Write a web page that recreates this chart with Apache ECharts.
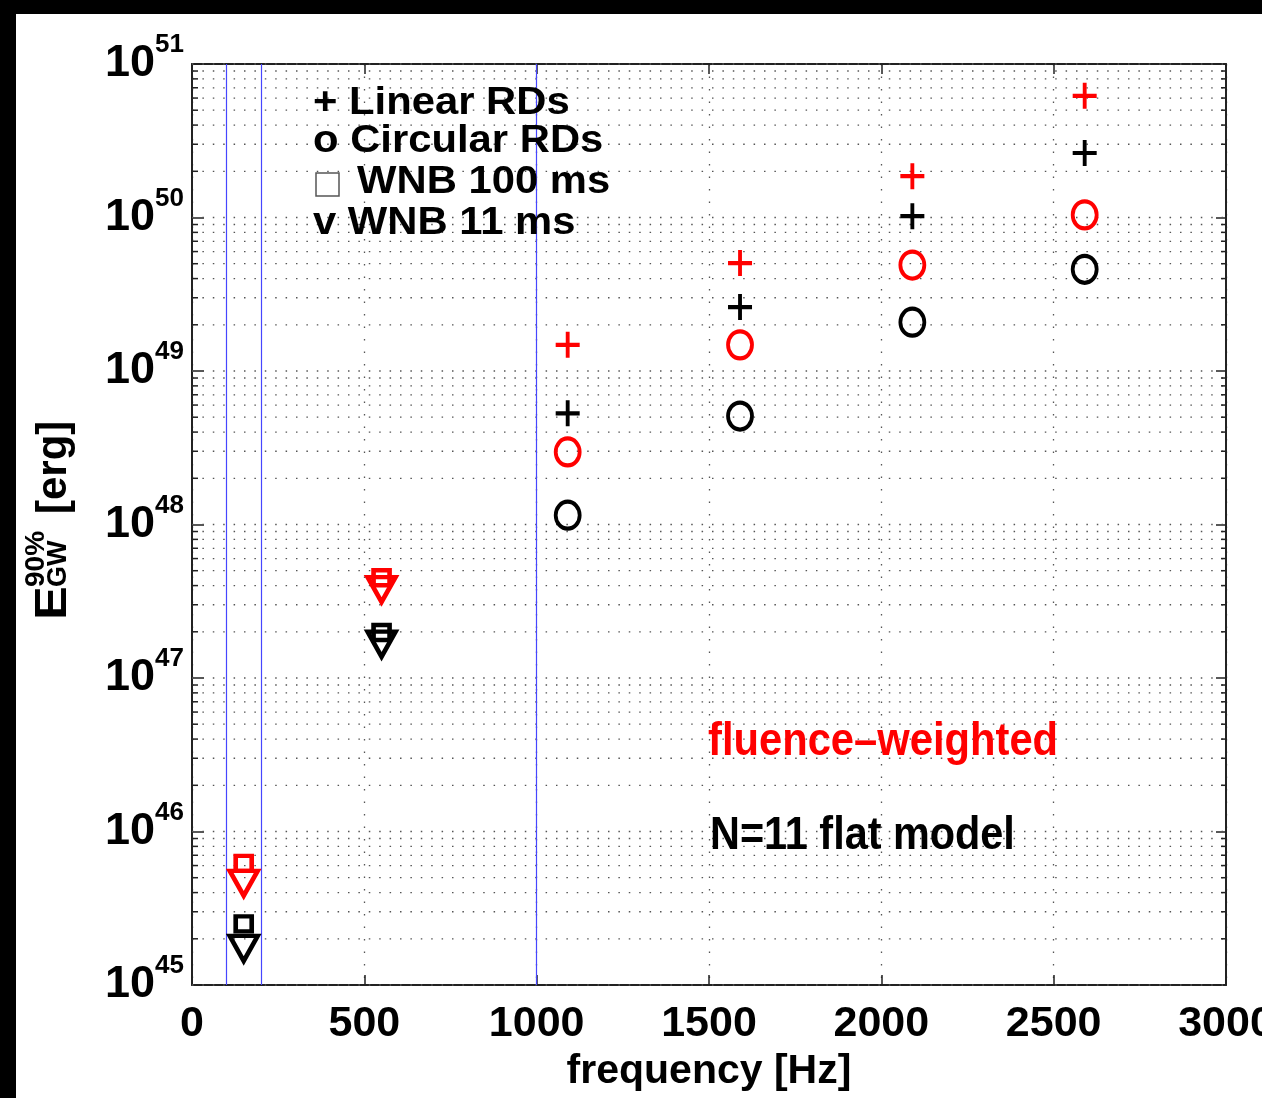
<!DOCTYPE html>
<html><head><meta charset="utf-8">
<script src="https://cdn.jsdelivr.net/npm/echarts@6/dist/echarts.min.js"></script>
<style>html,body{margin:0;padding:0;background:#fff;}#c{width:1262px;height:1098px;}</style>
</head><body><div id="c"></div>
<script>
// ---- data ----
const rdFreqs = [1090, 1590, 2090, 2590];
const wnbFreqs = [150, 550];
const linearFluence   = [1.48e49, 5.05e49, 1.86e50, 6.2e50];
const linearFlat      = [5.3e48, 2.61e49, 1.02e50, 2.63e50];
const circularFluence = [2.97e48, 1.48e49, 4.9e49, 1.04e50];
const circularFlat    = [1.15e48, 5.09e48, 2.08e49, 4.6e49];
const wnb100Fluence   = [6.2e45, 4.5e47];
const wnb100Flat      = [2.5e45, 1.98e47];
const wnb11Fluence    = [4.6e45, 3.77e47];
const wnb11Flat       = [1.73e45, 1.66e47];
const bandLines = [100, 200, 1000];
const xTicks = [0, 500, 1000, 1500, 2000, 2500, 3000];
const yDecades = [45, 46, 47, 48, 49, 50, 51];
const minorMultipliers = [2, 3, 4, 5, 6, 7, 8, 9];
const legendLabels = ['+ Linear RDs', 'o Circular RDs', 'WNB 100 ms', 'v WNB 11 ms'];

// ---- helpers ----
const SANS = "'Liberation Sans',Arial,Helvetica,sans-serif";
const PLUS = 'path://M0,-1L0,1M-1,0L1,0';
const ELLIPSE = 'path://M1,0C1,0.5523,0.5523,1,0,1C-0.5523,1,-1,0.5523,-1,0C-1,-0.5523,-0.5523,-1,0,-1C0.5523,-1,1,-0.5523,1,0Z';
const SQUARE = 'path://M-1,-1L1,-1L1,1L-1,1Z';
const TRI_DOWN = 'path://M-1,-1L1,-1L0,1Z';
const RED = '#ff0000', BLACK = '#000000';

const gridRows = [];
yDecades.slice(0, -1).forEach(d => {
  [1].concat(minorMultipliers).forEach(m => gridRows.push([0, m * Math.pow(10, d), m]));
});
gridRows.push([0, Math.pow(10, yDecades[yDecades.length - 1]), 1]);

function scat(xs, ys, symbol, size, color, bw) {
  return {
    type: 'scatter', xAxisIndex: 0, yAxisIndex: 0, silent: true, z: 5,
    data: xs.map((x, i) => [x, ys[i]]),
    symbol: symbol, symbolSize: size,
    itemStyle: { color: 'rgba(0,0,0,0)', borderColor: color, borderWidth: bw, opacity: 1 }
  };
}

const chart = echarts.init(document.getElementById('c'), null, { renderer: 'canvas' });

const axisLineStyle = { show: true, onZero: false, lineStyle: { color: '#222', width: 2 } };

const option = {
  animation: false,
  backgroundColor: '#ffffff',
  grid: { left: 192, top: 64, width: 1034, height: 921, containLabel: false, outerBoundsMode: 'none' },
  xAxis: [
    {
      type: 'value', min: xTicks[0], max: xTicks[xTicks.length - 1], interval: 500, position: 'bottom',
      axisLine: axisLineStyle,
      axisTick: { show: true, inside: true, length: 10, lineStyle: { color: '#222', width: 1.5 } },
      axisLabel: { margin: 18, fontFamily: SANS, fontWeight: 'bold', fontSize: 43, color: '#000',
        formatter: v => String(v) },
      splitLine: { show: true, lineStyle: { color: '#555', width: 1.3, type: [1.5, 11] } },
      name: 'frequency [Hz]', nameLocation: 'middle', nameGap: 62,
      nameTextStyle: { fontFamily: SANS, fontWeight: 'bold', fontSize: 41, color: '#000' }
    },
    {
      type: 'value', min: xTicks[0], max: xTicks[xTicks.length - 1], interval: 500, position: 'top',
      axisLine: axisLineStyle,
      axisTick: { show: true, inside: true, length: 10, lineStyle: { color: '#222', width: 1.5 } },
      axisLabel: { show: false }, splitLine: { show: false }
    }
  ],
  yAxis: [
    {
      type: 'log', logBase: 10, min: Math.pow(10, yDecades[0]), max: Math.pow(10, yDecades[yDecades.length - 1]),
      splitNumber: 6, position: 'left',
      axisLine: axisLineStyle,
      axisTick: { show: true, inside: true, length: 12, lineStyle: { color: '#222', width: 1.5 } },
      splitLine: { show: false },
      axisLabel: {
        margin: 8,
        formatter: v => '{b|10}{s|' + Math.round(Math.log10(v)) + '}',
        rich: {
          b: { fontFamily: SANS, fontWeight: 'bold', fontSize: 45, lineHeight: 64, color: '#000', verticalAlign: 'middle' },
          s: { fontFamily: SANS, fontWeight: 'bold', fontSize: 26, lineHeight: 26, color: '#000', verticalAlign: 'top' }
        }
      }
    },
    {
      type: 'log', logBase: 10, min: Math.pow(10, yDecades[0]), max: Math.pow(10, yDecades[yDecades.length - 1]),
      splitNumber: 6, position: 'right',
      axisLine: axisLineStyle,
      axisTick: { show: true, inside: true, length: 10, lineStyle: { color: '#222', width: 1.5 } },
      axisLabel: { show: false }, splitLine: { show: false }
    }
  ],
  series: [
    {
      type: 'custom', xAxisIndex: 0, yAxisIndex: 0, silent: true, z: 1,
      data: gridRows,
      renderItem: function (params, api) {
        const v = api.value(1), m = api.value(2);
        const p0 = api.coord([xTicks[0], v]);
        const p1 = api.coord([xTicks[xTicks.length - 1], v]);
        const ch = [{
          type: 'line', shape: { x1: p0[0], y1: p0[1], x2: p1[0], y2: p1[1] },
          style: { stroke: '#555', lineWidth: 1.3, lineDash: [1.5, 8.9] }
        }];
        if (m > 1) {
          ch.push({ type: 'line', shape: { x1: p0[0], y1: p0[1], x2: p0[0] + 6, y2: p0[1] }, style: { stroke: '#222', lineWidth: 1.5 } });
          ch.push({ type: 'line', shape: { x1: p1[0] - 5, y1: p1[1], x2: p1[0], y2: p1[1] }, style: { stroke: '#222', lineWidth: 1.5 } });
        }
        return { type: 'group', children: ch };
      }
    },
    {
      type: 'line', xAxisIndex: 0, yAxisIndex: 0, data: [], silent: true, z: 20,
      markLine: {
        silent: true, symbol: ['none', 'none'], label: { show: false }, animation: false,
        lineStyle: { color: '#4646ff', width: 1.2, type: 'solid' },
        data: bandLines.map(x => ({ xAxis: x }))
      }
    },
    scat(rdFreqs, linearFluence, PLUS, [24, 26], RED, 4),
    scat(rdFreqs, linearFlat, PLUS, [24, 26], BLACK, 4),
    scat(rdFreqs, circularFluence, ELLIPSE, [24, 27], RED, 4),
    scat(rdFreqs, circularFlat, ELLIPSE, [24, 27], BLACK, 4),
    scat(wnbFreqs, wnb100Fluence, SQUARE, [16, 15], RED, 4.5),
    scat(wnbFreqs, wnb100Flat, SQUARE, [16, 15], BLACK, 4.5),
    scat(wnbFreqs, wnb11Fluence, TRI_DOWN, [28, 25], RED, 4.5),
    scat(wnbFreqs, wnb11Flat, TRI_DOWN, [28, 25], BLACK, 4.5)
  ],
  graphic: [
    // legend block
    { type: 'text', x: 313, y: 103.5, scaleX: 1.1, z: 10,
      style: { text: legendLabels[0], fill: '#000', font: 'bold 38px ' + SANS, textAlign: 'left', textVerticalAlign: 'middle' } },
    { type: 'text', x: 313, y: 142, scaleX: 1.1, z: 10,
      style: { text: legendLabels[1], fill: '#000', font: 'bold 38px ' + SANS, textAlign: 'left', textVerticalAlign: 'middle' } },
    { type: 'rect', z: 10, shape: { x: 316, y: 173, width: 23, height: 23 }, style: { fill: '#fff', stroke: '#555', lineWidth: 1.5 } },
    { type: 'text', x: 357, y: 183, scaleX: 1.1, z: 10,
      style: { text: legendLabels[2], fill: '#000', font: 'bold 38px ' + SANS, textAlign: 'left', textVerticalAlign: 'middle' } },
    { type: 'text', x: 313, y: 223.5, scaleX: 1.1, z: 10,
      style: { text: legendLabels[3], fill: '#000', font: 'bold 38px ' + SANS, textAlign: 'left', textVerticalAlign: 'middle' } },
    // annotations
    { type: 'text', x: 708, y: 742, scaleX: 0.907, z: 10,
      style: { text: 'fluence\u2013weighted', fill: RED, font: 'bold 46px ' + SANS, textAlign: 'left', textVerticalAlign: 'middle' } },
    { type: 'text', x: 710, y: 836, scaleX: 0.9, z: 10,
      style: { text: 'N=11 flat model', fill: '#000', font: 'bold 46px ' + SANS, textAlign: 'left', textVerticalAlign: 'middle' } },
    // y axis title (rotated)
    { type: 'group', x: 0, y: 617, rotation: Math.PI / 2, z: 10, children: [
      { type: 'text', x: -3, y: 54, scaleX: 1.15, style: { text: 'E', fill: '#000', font: 'bold 44px ' + SANS, textAlign: 'left', textVerticalAlign: 'middle' } },
      { type: 'text', x: 30, y: 36, style: { text: '90%', fill: '#000', font: 'bold 28px ' + SANS, textAlign: 'left', textVerticalAlign: 'middle' } },
      { type: 'text', x: 30, y: 59, style: { text: 'GW', fill: '#000', font: 'bold 27px ' + SANS, textAlign: 'left', textVerticalAlign: 'middle' } },
      { type: 'text', x: 103, y: 54, style: { text: '[erg]', fill: '#000', font: 'bold 42px ' + SANS, textAlign: 'left', textVerticalAlign: 'middle' } }
    ] },
    // black frame bands of the original image
    { type: 'rect', z: 100, shape: { x: 0, y: 0, width: 1262, height: 14 }, style: { fill: '#000' } },
    { type: 'rect', z: 100, shape: { x: 0, y: 0, width: 16, height: 1098 }, style: { fill: '#000' } }
  ]
};
chart.setOption(option);
</script>
</body></html>
